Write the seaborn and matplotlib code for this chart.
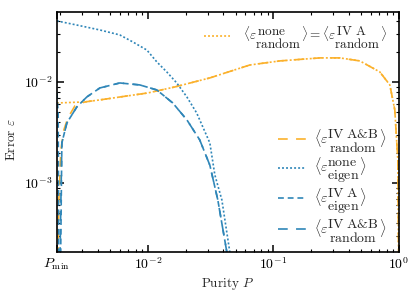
import matplotlib
matplotlib.use("Agg")
import matplotlib.pyplot as plt
import matplotlib.transforms as mtransforms
import seaborn as sns

# values (P = purity, eps = error)
p_min = 1.884e-3

p_rand_none = [p_min, 3.15e-3, 4.15e-3, 0.01, 0.0164, 0.0312, 0.065, 0.1127,
               0.235, 0.339, 0.489, 0.706, 0.848, 0.929, 0.982, 0.9995]
eps_rand_none = [6.19e-3, 6.34e-3, 6.64e-3, 7.78e-3, 8.92e-3, 1.096e-2, 1.472e-2, 1.615e-2,
                 1.73e-2, 1.73e-2, 1.615e-2, 1.256e-2, 9.34e-3, 5.28e-3, 1.69e-3, 1e-4]

p_rand_ab = [p_min, 1.919e-3, 1.954e-3, 2.028e-3, 2.142e-3, 2.306e-3, 2.62e-3] + p_rand_none[1:]
eps_rand_ab = [1e-5, 1.5e-4, 6.8e-4, 2.12e-3, 3.35e-3, 4.4e-3, 5.78e-3] + eps_rand_none[1:]

p_eig_none = [p_min, 2.716e-3, 4.15e-3, 5.98e-3, 7.59e-3, 9.82e-3, 0.0118, 0.01416, 0.0170,
              0.02047, 0.0245, 0.0312, 0.0342, 0.0389, 0.0450, 0.0493]
eps_eig_none = [0.0402, 0.0366, 0.0327, 0.0292, 0.0249, 0.0207, 0.01578, 0.01256, 9.77e-3,
                7.1e-3, 4.93e-3, 2.49e-3, 1.2e-3, 6.79e-4, 2.07e-4, 1e-4]

p_hump = [2.065e-3, 2.265e-3, 2.716e-3, 3.266e-3, 4.15e-3, 5.98e-3, 8.63e-3, 0.0118,
          0.0158, 0.0205, 0.0259, 0.0312, 0.0361, 0.0426, 0.0467]
eps_hump = [2.49e-3, 3.93e-3, 5.65e-3, 7.1e-3, 8.72e-3, 9.77e-3, 9.34e-3, 8.33e-3,
            6.19e-3, 4.2e-3, 2.67e-3, 1.5e-3, 6.8e-4, 2.07e-4, 1e-4]

p_eig_a = [p_min, 1.93e-3, 1.97e-3] + p_hump
eps_eig_a = [7.8e-3, 4.9e-3, 1e-5] + eps_hump

p_eig_ab = [p_min, 1.99e-3] + p_hump
eps_eig_ab = [1e-5, 1.5e-4] + eps_hump

orange = "#fbb12c"
blue = "#2f86b8"

sns.set_style("ticks")
plt.rcParams["font.family"] = ["cmr10", "DejaVu Serif"]
plt.rcParams["mathtext.fontset"] = "cm"
plt.rcParams["axes.formatter.use_mathtext"] = True
plt.rcParams["lines.scale_dashes"] = False
plt.rcParams["font.size"] = 10

fig = plt.figure(figsize=(4.15, 2.92), dpi=100)
ax = fig.add_axes([0.137, 0.137, 0.824, 0.822])

dot = (1.4, 1.5)
dash = (4.2, 2.8)
longdash = (7.0, 6.0)


def eps_label(sup, sub):
    # full-size stacked super/subscripts (trailing spaces keep them left aligned)
    return r"\langle\varepsilon\genfrac{}{}{0}{0}{\mathrm{%s}}{\mathrm{%s}}\rangle" % (sup, sub)


curves = [
    (p_rand_none, eps_rand_none, orange, dot,
     "$" + eps_label(r"none\quad\,", "random") + " = "
     + eps_label(r"IV\ A\quad", "random") + "$"),
    (p_rand_ab, eps_rand_ab, orange, longdash, "$" + eps_label(r"IV\ A&B", "random") + "$"),
    (p_eig_none, eps_eig_none, blue, dot, "$" + eps_label(r"none\,", "eigen") + "$"),
    (p_eig_a, eps_eig_a, blue, dash, "$" + eps_label(r"IV\ A", "eigen") + "$"),
    (p_eig_ab, eps_eig_ab, blue, longdash, "$" + eps_label(r"IV\ A&B", "random") + "$"),
]

handles = []
for px, ey, col, ds, lab in curves:
    sns.lineplot(x=px, y=ey, ax=ax, color=col, linewidth=1.2, sort=False,
                 estimator=None)
    ln = ax.lines[-1]
    ln.set_dashes(ds)
    handles.append(ln)

ax.set_xscale("log")
ax.set_yscale("log")
ax.set_xlim(p_min, 1.0)
ax.set_ylim(2.07e-4, 4.93e-2)

ax.set_xticks([p_min, 1e-2, 1e-1, 1e0])
ax.set_xticklabels([r"$P_{\mathrm{min}}$", r"$10^{-2}$", r"$10^{-1}$", r"$10^{0}$"])
off = mtransforms.ScaledTranslation(7 / 100, 0, fig.dpi_scale_trans)
ax.get_xticklabels()[0].set_transform(ax.get_xticklabels()[0].get_transform() + off)

ax.set_xlabel(r"Purity $P$", fontsize=9.5, labelpad=3)
ax.set_ylabel(r"Error $\varepsilon$", fontsize=9.5)
ax.yaxis.set_label_coords(-0.115, 0.467)

ax.tick_params(which="both", direction="in", top=True, right=True, colors="black")
ax.tick_params(which="major", length=5, width=1.1, pad=3, labelsize=10)
ax.tick_params(which="minor", length=2.5, width=0.8)
for s in ax.spines.values():
    s.set_linewidth(1.2)
    s.set_color("black")

leg1 = ax.legend(handles[:1], [c[4] for c in curves[:1]], loc="upper right",
                 bbox_to_anchor=(1.0, 0.995), frameon=False, handlelength=2.0,
                 handletextpad=0.95, borderaxespad=0.5, fontsize=9.5)
ax.add_artist(leg1)
ax.legend(handles[1:], [c[4] for c in curves[1:]], loc="lower right",
          bbox_to_anchor=(1.0, -0.021), frameon=False, handlelength=2.0,
          handletextpad=0.55, labelspacing=0.1, borderaxespad=0.5, fontsize=10)

fig.savefig("out.png", dpi=100)
